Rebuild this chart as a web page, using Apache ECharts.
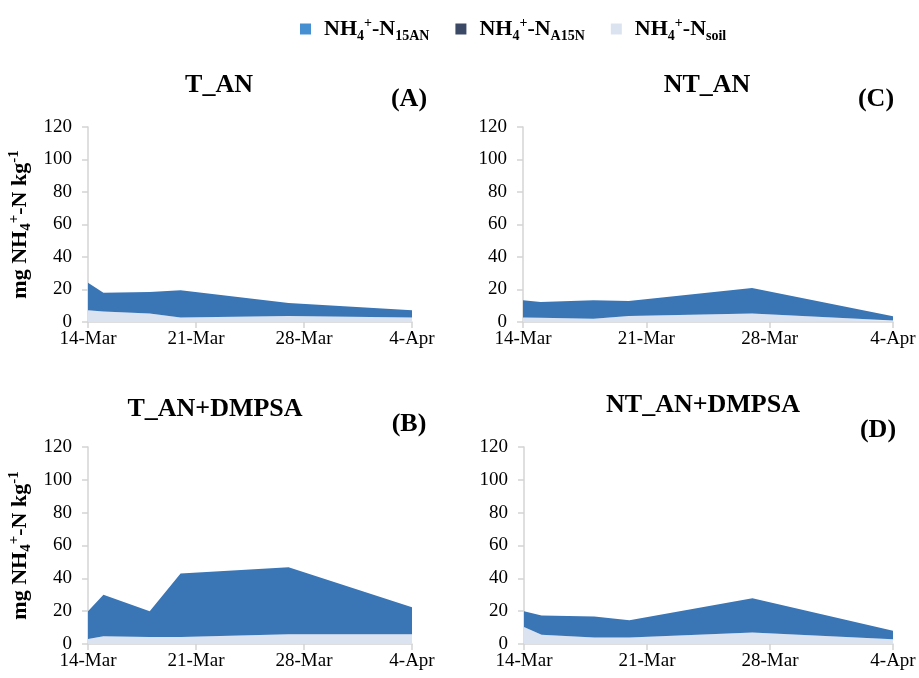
<!DOCTYPE html>
<html>
<head>
<meta charset="utf-8">
<script src="https://cdn.jsdelivr.net/npm/echarts@6/dist/echarts.min.js"></script>
<style>
  html, body { margin: 0; padding: 0; background: #fff; }
  #chart { width: 919px; height: 678px; }
</style>
</head>
<body>
<div id="chart"></div>
<script>
// Sampling days, counted from 14 March
const sampleDays = [0, 1, 4, 6, 13, 21];
const tickLabels = ['14-Mar', '21-Mar', '28-Mar', '4-Apr'];

// NH4+-N (mg kg-1) per treatment: soil-derived, A15N-derived, 15AN-derived
const soil_T_AN        = [7.2, 6.4, 5.2, 2.7, 3.7, 2.8];
const a15n_T_AN        = [0, 0, 0, 0, 0, 0];
const n15an_T_AN       = [16.9, 11.6, 13.3, 16.9, 8.0, 4.4];

const soil_T_DMPSA     = [3.0, 4.7, 4.3, 4.3, 6.0, 5.9];
const a15n_T_DMPSA     = [0, 0, 0, 0, 0, 0];
const n15an_T_DMPSA    = [17.0, 25.3, 15.7, 38.7, 40.8, 16.5];

const soil_NT_AN       = [2.7, 2.6, 2.0, 3.7, 5.2, 1.0];
const a15n_NT_AN       = [0, 0, 0, 0, 0, 0];
const n15an_NT_AN      = [10.7, 9.7, 11.4, 9.3, 15.8, 2.5];

const soil_NT_DMPSA    = [10.3, 5.6, 3.9, 3.9, 7.0, 2.9];
const a15n_NT_DMPSA    = [0, 0, 0, 0, 0, 0];
const n15an_NT_DMPSA   = [9.7, 11.7, 12.8, 10.5, 20.8, 5.1];

const panelTitles = ['T_AN', 'NT_AN', 'T_AN+DMPSA', 'NT_AN+DMPSA'];
const panelLetters = ['(A)', '(C)', '(B)', '(D)'];

const SERIF = '"Liberation Serif", "Times New Roman", serif';
const C_15AN = '#3a75b5', C_15AN_KEY = '#4690d2';
const C_A15N = '#3b4966';
const C_SOIL = '#dbe3f0';
const DAY = 86400000;
const T0 = Date.UTC(2017, 2, 14);

const panels = [
  { soil: soil_T_AN, a15n: a15n_T_AN, n15an: n15an_T_AN,
    grid: { left: 88, width: 324, top: 127, height: 195 }, yName: true },
  { soil: soil_NT_AN, a15n: a15n_NT_AN, n15an: n15an_NT_AN,
    grid: { left: 523, width: 370, top: 127, height: 195 }, yName: false },
  { soil: soil_T_DMPSA, a15n: a15n_T_DMPSA, n15an: n15an_T_DMPSA,
    grid: { left: 88, width: 324, top: 447, height: 197 }, yName: true },
  { soil: soil_NT_DMPSA, a15n: a15n_NT_DMPSA, n15an: n15an_NT_DMPSA,
    grid: { left: 524, width: 369, top: 447, height: 197 }, yName: false }
];

function richSet(main, small, lh) {
  return {
    p:   { fontFamily: SERIF, fontWeight: 'bold', fontSize: main, color: '#000', lineHeight: lh, verticalAlign: 'middle', padding: [0, 0, 0, 8] },
    b:   { fontFamily: SERIF, fontWeight: 'bold', fontSize: main, color: '#000', lineHeight: lh, verticalAlign: 'middle' },
    sub: { fontFamily: SERIF, fontWeight: 'bold', fontSize: small, color: '#000', lineHeight: lh, verticalAlign: 'bottom', padding: [0, 0, 1, 0] },
    sup: { fontFamily: SERIF, fontWeight: 'bold', fontSize: small, color: '#000', lineHeight: lh, verticalAlign: 'top', padding: [2, 0, 0, 0] }
  };
}

const legendNames = {
  'NH4+-N15AN': '{p|NH}{sub|4}{sup|+}{b|-N}{sub|15AN}',
  'NH4+-NA15N': '{p|NH}{sub|4}{sup|+}{b|-N}{sub|A15N}',
  'NH4+-Nsoil': '{p|NH}{sub|4}{sup|+}{b|-N}{sub|soil}'
};

const axisGrey = { color: '#d4d4d4', width: 1.5 };
const grids = [], xAxes = [], yAxes = [], series = [];
panels.forEach((p, i) => {
  grids.push(p.grid);
  // time axis carrying the data (index 2i), weekly tick axis for the labels (index 2i+1)
  xAxes.push({
    type: 'time', gridIndex: i, min: T0, max: T0 + 21 * DAY,
    axisLine: { lineStyle: axisGrey },
    axisTick: { show: false }, axisLabel: { show: false }, splitLine: { show: false }
  });
  xAxes.push({
    type: 'value', gridIndex: i, position: 'bottom', min: 0, max: 21, interval: 7,
    axisLine: { show: false },
    axisTick: { show: true, length: 6, lineStyle: axisGrey },
    splitLine: { show: false },
    axisLabel: {
      fontFamily: SERIF, fontSize: 19, color: '#000', margin: 8,
      formatter: v => tickLabels[Math.round(v / 7)]
    }
  });
  yAxes.push({
    type: 'value', gridIndex: i, min: 0, max: 120, interval: 20,
    axisLine: { show: true, lineStyle: axisGrey },
    axisTick: { show: true, length: 6, lineStyle: axisGrey },
    splitLine: { show: false },
    axisLabel: { fontFamily: SERIF, fontSize: 19, color: '#000', margin: 16 },
    name: p.yName ? '{b|mg NH}{sub|4}{sup|+}{b|-N kg}{sup|-1}' : '',
    nameLocation: 'middle', nameRotate: 90, nameGap: 53,
    nameTextStyle: { rich: richSet(22, 15, 30) }
  });
  // Stacked bands: soil at the bottom, then A15N, then 15AN on top
  const pts = arr => sampleDays.map((d, k) => [T0 + d * DAY, arr[k]]);
  const base = { type: 'line', xAxisIndex: 2 * i, yAxisIndex: i, stack: 'nh4_' + i,
    showSymbol: false, symbol: 'none', silent: true, lineStyle: { opacity: 0 } };
  series.push(Object.assign({}, base, { name: 'NH4+-Nsoil', data: pts(p.soil),
    itemStyle: { color: C_SOIL }, areaStyle: { color: C_SOIL, opacity: 1 } }));
  series.push(Object.assign({}, base, { name: 'NH4+-NA15N', data: pts(p.a15n),
    itemStyle: { color: C_A15N }, areaStyle: { color: C_A15N, opacity: 1 } }));
  series.push(Object.assign({}, base, { name: 'NH4+-N15AN', data: pts(p.n15an),
    itemStyle: { color: C_15AN_KEY }, areaStyle: { color: C_15AN, opacity: 1 } }));
});

// Panel titles and letters
const titleStyle = { fontFamily: SERIF, fontWeight: 'bold', fontSize: 26, fill: '#000' };
const titlePos = [[219, 85], [707, 85], [215, 409], [703, 405]];
const letterPos = [[409, 99], [876, 99], [409, 424], [878, 430]];
const graphics = [];
panelTitles.forEach((t, i) => {
  graphics.push({ type: 'text', x: titlePos[i][0], y: titlePos[i][1],
    style: Object.assign({ text: t, textAlign: 'center', textVerticalAlign: 'middle' }, titleStyle) });
  graphics.push({ type: 'text', x: letterPos[i][0], y: letterPos[i][1],
    style: Object.assign({ text: panelLetters[i], textAlign: 'center', textVerticalAlign: 'middle' }, titleStyle) });
});

const chart = echarts.init(document.getElementById('chart'), null, { renderer: 'canvas' });
chart.setOption({
  animation: false,
  backgroundColor: '#fff',
  legend: {
    top: 9, left: 295, itemWidth: 11, itemHeight: 11, itemGap: 26,
    icon: 'rect',
    data: ['NH4+-N15AN', 'NH4+-NA15N', 'NH4+-Nsoil'],
    formatter: n => legendNames[n],
    textStyle: { rich: richSet(22, 14, 30) },
    selectedMode: false
  },
  grid: grids, xAxis: xAxes, yAxis: yAxes, series: series,
  graphic: graphics
});
</script>
</body>
</html>
